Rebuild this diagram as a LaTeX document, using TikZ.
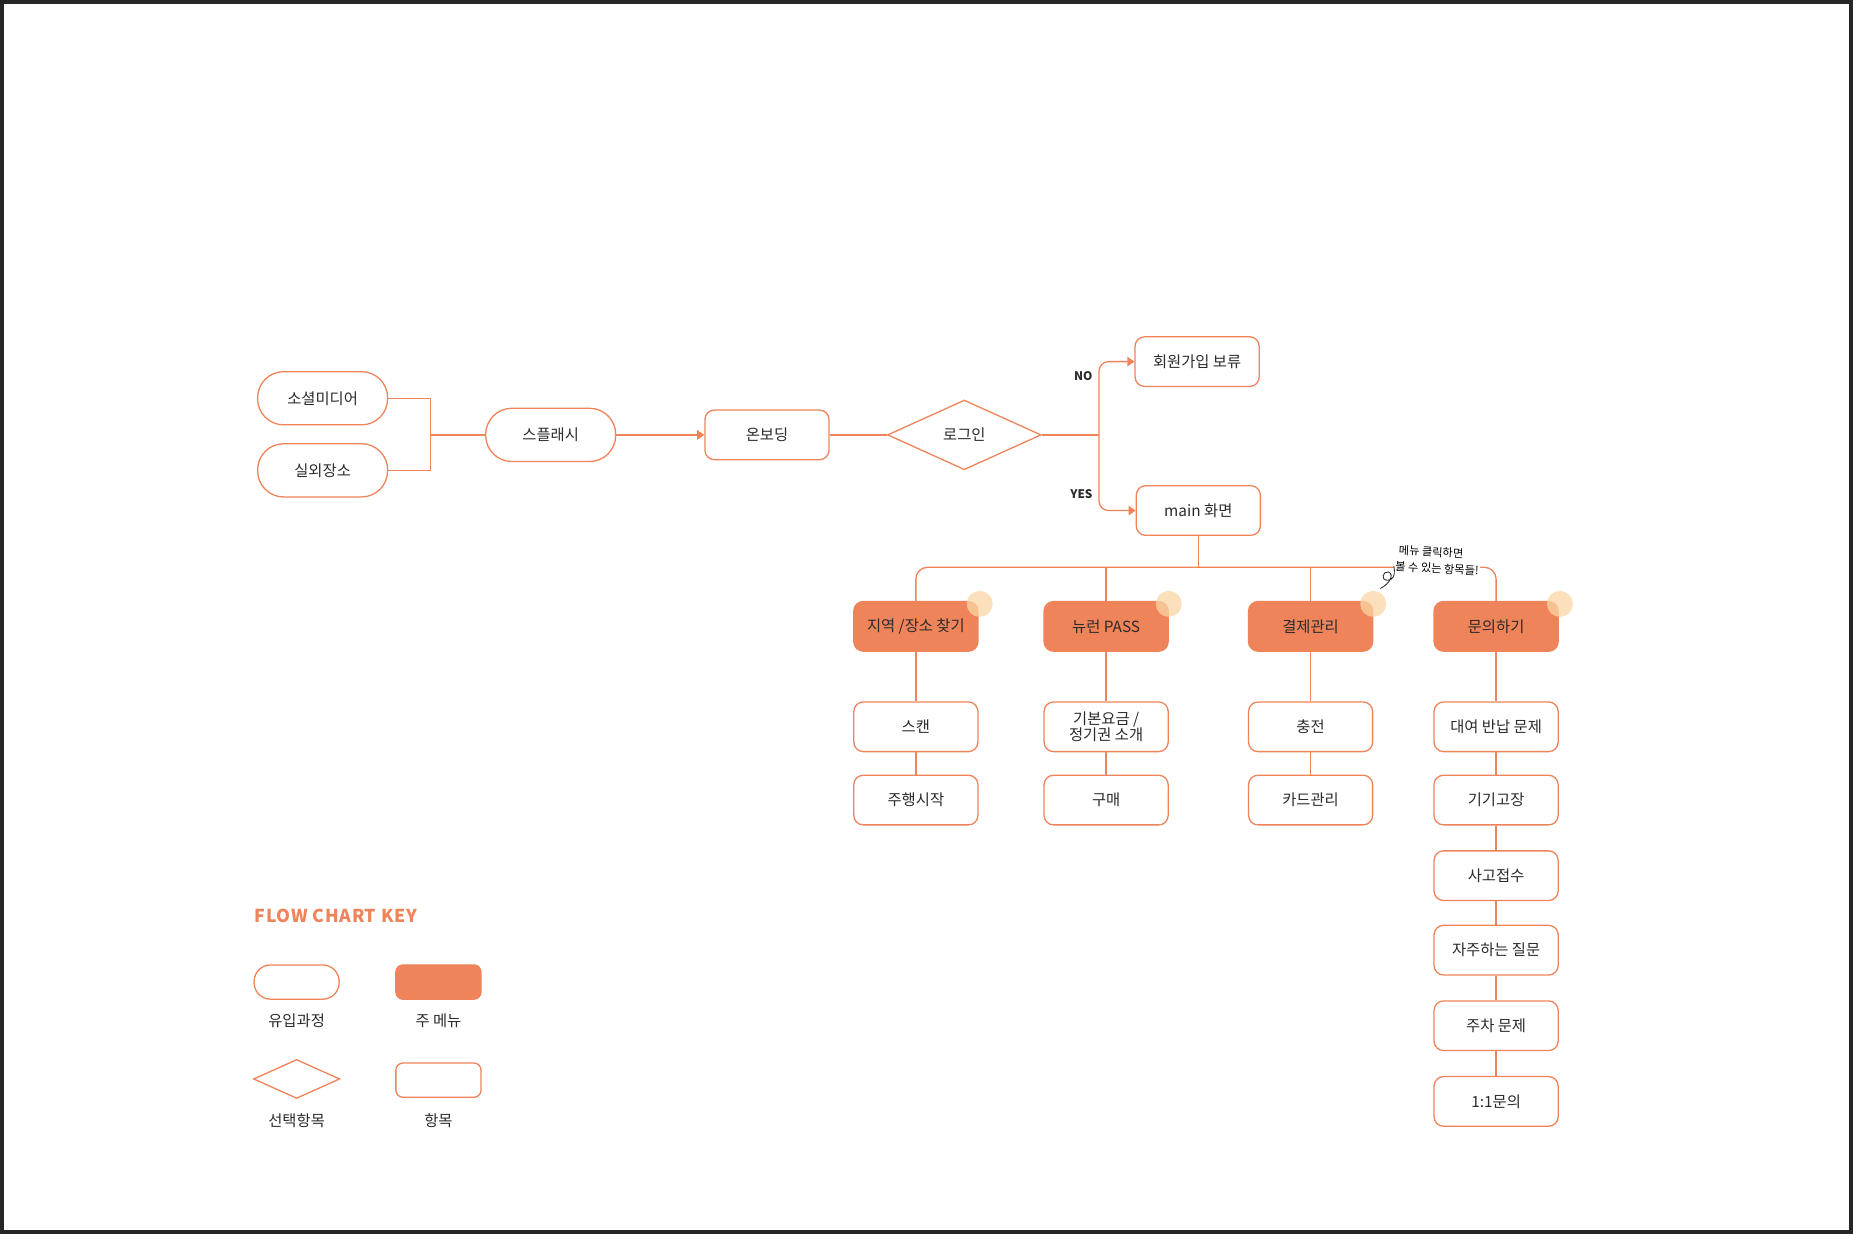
\documentclass[tikz,border=0pt]{standalone}
\usepackage{fontspec}
\setmainfont{Noto Sans CJK KR}
\usetikzlibrary{shapes.geometric,arrows.meta}
\definecolor{flow-orange}{HTML}{EF845A}
\definecolor{flow-peach}{HTML}{FCD6A6}
\definecolor{flow-text}{HTML}{2B2B2B}
\begin{document}
\begin{tikzpicture}[x=1pt, y=-1pt,
line/.style={draw=flow-orange, line width=1.1pt},
arrow/.style={line, -{Triangle[width=8pt,length=6pt]}},
block/.style={rectangle, rounded corners=8pt, draw=flow-orange, line width=1.1pt,
text=flow-text, align=center, font=\fontsize{13}{14}\selectfont,
minimum width=105pt, minimum height=42pt, inner sep=0pt},
block-entry/.style={block, rounded corners=22pt, minimum width=110pt, minimum height=45pt},
block-menu/.style={block, fill=flow-orange},
block-choice/.style={block, diamond, rounded corners=0pt, minimum width=130pt, minimum height=59pt},
label-yn/.style={font=\bfseries\fontsize{10}{11}\selectfont, text=flow-text},
key-label/.style={text=flow-text, font=\fontsize{13}{14}\selectfont},
dot/.style={fill=flow-peach, opacity=0.75}
]

\useasboundingbox (0,0) rectangle (1568,1044);
\fill[white] (0,0) rectangle (1568,1044);
\draw[line width=3pt, black!85] (1.5,1.5) rectangle (1566.5,1042.5);

\node [block-entry] (social) at (273,337) {소셜미디어};
\node [block-entry] (outdoor) at (273,398) {실외장소};
\node [block-entry] (splash) at (466,368) {스플래시};
\node [block] (onboard) at (649,368) {온보딩};
\node [block-choice] (login) at (816,368) {로그인};
\node [block] (signup) at (1013,306) {회원가입 보류};
\node [block] (main) at (1014,432) {main 화면};

\coordinate (merge) at (364,368);
\coordinate (split) at (930,368);
\coordinate (bar) at (1014,480);

\draw [line] (social.east) -| (merge) |- (outdoor.east);
\draw [line] (merge) -- (splash.west);
\draw [arrow] (splash.east) -- (onboard.west);
\draw [line] (onboard.east) -- (login.west);
\draw [line] (login.east) -- (split);
\draw [arrow, rounded corners=8pt] (split) |- (signup.west);
\draw [arrow, rounded corners=8pt] (split) |- (main.west);
\node [label-yn, anchor=east] at (928,318) {NO};
\node [label-yn, anchor=east] at (928,418) {YES};

\node [block-menu] (find) at (775,530) {지역 /장소 찾기};
\node [block-menu] (pass) at (936,530) {뉴런 PASS};
\node [block-menu] (pay) at (1109,530) {결제관리};
\node [block-menu] (ask) at (1266,530) {문의하기};

\draw [line] (main.south) -- (bar);
\draw [line, rounded corners=10pt] (find.north) |- (bar) -| (ask.north);
\draw [line] (pass.north) -- (pass.north |- bar);
\draw [line] (pay.north) -- (pay.north |- bar);

\fill [dot] (829,511) circle (11);
\fill [dot] (989,511) circle (11);
\fill [dot] (1162,511) circle (11);
\fill [dot] (1320,511) circle (11);

\node [block] (scan) at (775,615) {스캔};
\node [block] (ride) at (775,677) {주행시작};
\node [block] (fare) at (936,615) {기본요금 /\\정기권 소개};
\node [block] (buy) at (936,677) {구매};
\node [block] (charge) at (1109,615) {충전};
\node [block] (card) at (1109,677) {카드관리};
\node [block] (rent) at (1266,615) {대여 반납 문제};
\node [block] (broken) at (1266,677) {기기고장};
\node [block] (accident) at (1266,741) {사고접수};
\node [block] (faq) at (1266,804) {자주하는 질문};
\node [block] (parking) at (1266,868) {주차 문제};
\node [block] (direct) at (1266,932) {1:1문의};

\draw [line] (find.south) -- (scan.north);
\draw [line] (scan.south) -- (ride.north);
\draw [line] (pass.south) -- (fare.north);
\draw [line] (fare.south) -- (buy.north);
\draw [line] (pay.south) -- (charge.north);
\draw [line] (charge.south) -- (card.north);
\draw [line] (ask.south) -- (rent.north);
\draw [line] (rent.south) -- (broken.north);
\draw [line] (broken.south) -- (accident.north);
\draw [line] (accident.south) -- (faq.north);
\draw [line] (faq.south) -- (parking.north);
\draw [line] (parking.south) -- (direct.north);

\node [font=\fontsize{9.5}{10}\selectfont, rotate=-3] (note-top) at (1211,467) {메뉴 클릭하면};
\node [font=\fontsize{9.5}{10}\selectfont, rotate=-3, fill=white, inner sep=1pt] (note-bottom) at (1216,481) {볼 수 있는 항목들!};
\draw [black!85, line width=0.7pt] (1168,498) .. controls (1176,494) and (1180,486) .. (1175,484)
  .. controls (1170,483) and (1168,491) .. (1174,491) .. controls (1178,491) and (1181,488) .. (note-bottom.west);

\node [anchor=west, text=flow-orange, font=\bfseries\fontsize{15}{17}\selectfont\addfontfeatures{LetterSpace=4}] (key) at (212,775) {FLOW CHART KEY};
\node [block-entry, minimum width=72pt, minimum height=29pt, rounded corners=14pt] (key-entry) at (251,831) {};
\node [block-menu, minimum width=72pt, minimum height=29pt, rounded corners=6pt] (key-menu) at (371,831) {};
\node [block-choice, minimum width=73pt, minimum height=33pt] (key-choice) at (251,913) {};
\node [block, minimum width=72pt, minimum height=29pt, rounded corners=6pt] (key-item) at (371,914) {};
\node [key-label] at (251,864) {유입과정};
\node [key-label] at (371,864) {주 메뉴};
\node [key-label] at (251,948) {선택항목};
\node [key-label] at (371,948) {항목};

\end{tikzpicture}
\end{document}
